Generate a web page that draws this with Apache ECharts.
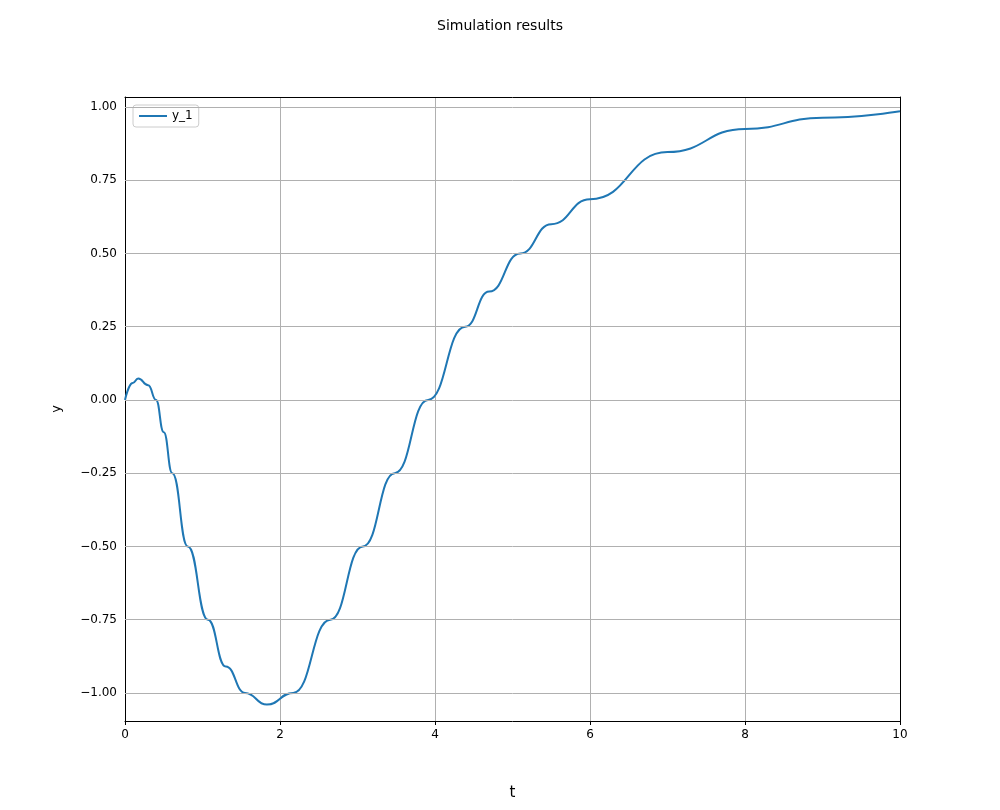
<!DOCTYPE html>
<html>
<head>
<meta charset="utf-8">
<script src="https://cdn.jsdelivr.net/npm/echarts@6/dist/echarts.min.js"></script>
<style>body{margin:0;background:#fff}#main{width:1000px;height:810px}</style>
</head>
<body>
<div id="main"></div>
<script>
var tValues = [0, 0.1, 0.17, 0.3, 0.4, 0.5, 0.61, 0.81, 1.07, 1.3, 1.55, 1.83, 2.17, 2.65, 3.07, 3.48, 3.91, 4.39, 4.7, 5.1, 5.5, 6.0, 7, 8, 9, 10];
var yValues = [0, 0.058, 0.073, 0.05, 0.0, -0.11, -0.25, -0.5, -0.75, -0.91, -1.0, -1.04, -1.0, -0.75, -0.5, -0.25, 0, 0.25, 0.37, 0.5, 0.6, 0.685, 0.846, 0.925, 0.963, 0.985];
var yTicks = [-1.0, -0.75, -0.5, -0.25, 0, 0.25, 0.5, 0.75, 1.0];

var chart = echarts.init(document.getElementById('main'));
var font = 'DejaVu Sans';
var border = {show: true, onZero: false, lineStyle: {color: '#000'}};
chart.setOption({
    animation: false,
    textStyle: {fontFamily: font},
    title: {text: 'Simulation results', left: 'center', top: 14,
        textStyle: {fontSize: 14, fontWeight: 'normal', color: '#000', fontFamily: font}},
    grid: {left: 125, right: 100, top: 97, bottom: 89},
    legend: {left: 133, top: 105, orient: 'vertical', data: ['y_1'], itemWidth: 28, itemHeight: 2,
        backgroundColor: '#fff', borderColor: '#ccc', borderWidth: 1, borderRadius: 3, padding: [5, 6],
        textStyle: {fontSize: 12, color: '#000'}, icon: 'rect'},
    xAxis: [{type: 'value', min: 0, max: 10, interval: 2, name: 't', nameLocation: 'middle', nameGap: 65,
        nameTextStyle: {fontSize: 15, color: '#000'},
        axisLine: border, axisTick: {lineStyle: {color: '#000'}, length: 4},
        axisLabel: {color: '#000', fontSize: 12, margin: 8},
        splitLine: {show: true, lineStyle: {color: '#b0b0b0'}}},
      {type: 'value', min: 0, max: 10, position: 'top', axisLine: border,
        axisTick: {show: false}, axisLabel: {show: false}, splitLine: {show: false}}],
    yAxis: [{type: 'value', min: -1.096, max: 1.034, name: 'y', nameLocation: 'middle', nameGap: 62,
        nameTextStyle: {fontSize: 13, color: '#000'},
        axisLine: border, axisTick: {show: false},
        axisLabel: {show: false}, splitLine: {show: false}},
      {type: 'value', min: -1.096, max: 1.034, position: 'right',
        axisLine: border, axisTick: {show: false},
        axisLabel: {show: false}, splitLine: {show: false}}],
    series: [{name: 'y_1', type: 'line', smooth: 0.5, smoothMonotone: 'x', showSymbol: false, color: '#1f77b4',
        lineStyle: {width: 2},
        data: tValues.map(function (t, i) { return [t, yValues[i]]; }),
        markLine: {silent: true, symbol: 'none', label: {show: true, position: 'start', color: '#000', fontSize: 12, distance: 8,
            formatter: function (p) { var v = p.value; return (v < 0 ? '\u2212' + (-v).toFixed(2) : v.toFixed(2)); }},
            lineStyle: {color: '#b0b0b0', type: 'solid', width: 1},
            data: yTicks.map(function (v) { return {yAxis: v}; })}}]
});
</script>
</body>
</html>
